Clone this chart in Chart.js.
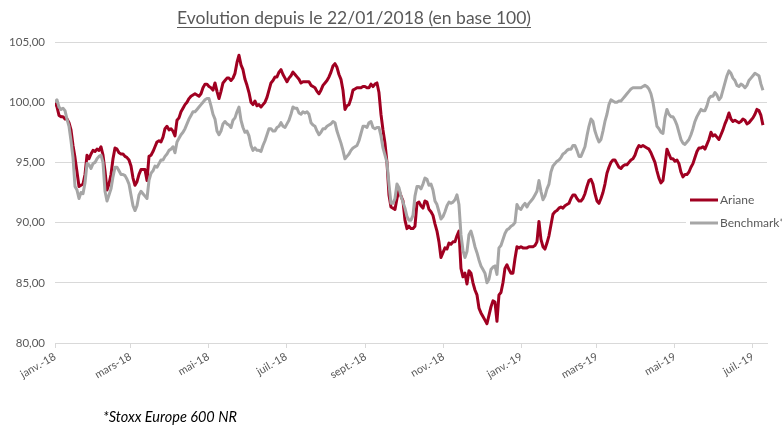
<!DOCTYPE html>
<html lang="fr">
<head>
<meta charset="utf-8">
<title>Evolution depuis le 22/01/2018</title>
<script src="https://cdn.jsdelivr.net/npm/chart.js@4.4.1/dist/chart.umd.min.js"></script>
<style>
  html, body { margin: 0; padding: 0; background: #fff; }
  #cadre { width: 782px; height: 426px; position: relative; }
</style>
</head>
<body>
<div id="cadre"><canvas id="graphique" width="782" height="426"></canvas></div>
<script>
// Textes
const titre = 'Evolution depuis le 22/01/2018 (en base 100)';
const noteBas = '*Stoxx Europe 600 NR';
const nomsSeries = ['Ariane', 'Benchmark*'];

// Axe des dates : début des séries, fin de l'axe, un point toutes les ~1,56 jours
const debut = '2018-01-22';
const finAxe = '2019-08-02';
const pasJours = 546 / 349;
const moisDates = ['2018-01-22', '2018-03-22', '2018-05-22', '2018-07-22', '2018-09-22',
                   '2018-11-22', '2019-01-22', '2019-03-22', '2019-05-22', '2019-07-22'];
const moisLabels = ['janv.-18', 'mars-18', 'mai-18', 'juil.-18', 'sept.-18',
                    'nov.-18', 'janv.-19', 'mars-19', 'mai-19', 'juil.-19'];

// Axe des valeurs
const yMin = 80, yMax = 105, yPas = 5;

// Valeurs (base 100)
const ariane = [
  100.0, 99.6, 98.9, 98.8, 98.8, 98.6, 98.6, 98.3, 97.7, 96.4,
  95.4, 94.2, 93.0, 93.1, 93.2, 94.0, 95.6, 95.3, 95.7, 96.0,
  95.9, 96.1, 96.0, 96.3, 95.6, 94.3, 92.7, 93.2, 94.0, 95.3,
  96.2, 96.1, 95.8, 95.7, 95.7, 95.5, 95.4, 95.2, 94.7, 93.7,
  93.1, 93.4, 94.0, 94.4, 94.4, 94.4, 93.5, 95.5, 95.6, 95.9,
  96.3, 96.7, 96.8, 96.7, 97.1, 97.8, 98.0, 97.7, 97.8, 97.6,
  97.2, 98.5, 98.7, 99.2, 99.5, 99.8, 100.0, 100.3, 100.5, 100.6,
  100.7, 100.6, 100.5, 100.7, 101.2, 101.5, 101.5, 101.3, 101.2, 101.0,
  101.6, 100.9, 100.3, 100.9, 101.6, 101.8, 102.0, 102.0, 101.8, 102.0,
  102.4, 103.3, 103.9, 103.1, 102.7, 101.9, 101.4, 100.8, 100.0, 99.8,
  100.1, 99.7, 99.8, 99.6, 99.8, 100.0, 100.4, 101.0, 101.6, 101.8,
  102.1, 102.1, 102.5, 102.7, 102.3, 102.0, 101.7, 102.0, 102.2, 102.5,
  102.3, 102.1, 101.9, 101.6, 101.7, 101.7, 101.7, 101.7, 101.4, 101.3,
  101.2, 100.9, 100.7, 101.0, 101.4, 101.6, 101.8, 102.1, 102.5, 103.0,
  103.2, 102.9, 102.3, 101.9, 101.0, 99.4, 99.7, 99.8, 100.3, 101.0,
  101.1, 101.2, 101.2, 101.2, 101.3, 101.3, 101.2, 101.2, 101.5, 101.3,
  101.5, 101.6, 100.8, 99.0, 97.7, 96.6, 95.0, 92.3, 91.3, 91.2,
  91.1, 92.0, 92.7, 92.2, 91.8, 90.2, 89.5, 89.7, 89.5, 89.5,
  89.7, 91.6, 91.7, 91.4, 91.2, 91.8, 91.7, 91.1, 90.9, 90.6,
  89.9, 89.3, 88.4, 87.1, 87.5, 87.9, 87.8, 88.3, 88.2, 88.4,
  88.4, 88.9, 89.3, 86.2, 85.5, 85.8, 84.9, 86.0, 85.8, 85.0,
  84.4, 84.0, 82.9, 82.5, 82.2, 81.9, 81.6, 82.3, 83.0, 83.5,
  83.4, 81.8, 84.0, 84.2, 85.0, 86.2, 86.5, 86.1, 85.8, 85.8,
  87.0, 88.0, 87.9, 88.0, 87.9, 87.9, 87.9, 88.0, 88.0, 88.0,
  88.1, 88.4, 90.1, 88.6, 88.0, 87.8, 88.3, 88.9, 89.8, 90.7,
  90.9, 91.0, 91.2, 91.3, 91.2, 91.4, 91.5, 91.6, 92.0, 92.3,
  92.3, 92.0, 91.8, 91.8, 92.0, 92.4, 93.0, 93.5, 93.6, 93.2,
  92.4, 91.8, 91.6, 92.0, 92.5, 93.2, 94.1, 94.6, 95.0, 95.2,
  95.2, 94.9, 94.6, 94.5, 94.7, 94.8, 94.8, 95.0, 95.2, 95.3,
  95.6, 96.1, 96.4, 96.3, 96.4, 96.3, 96.2, 96.1, 95.8, 95.4,
  95.0, 94.3, 93.7, 93.3, 93.5, 94.7, 96.1, 95.7, 95.3, 95.3,
  95.1, 95.2, 94.9, 94.2, 93.8, 94.0, 94.0, 94.2, 94.6, 94.9,
  95.4, 95.9, 96.2, 96.2, 96.3, 96.1, 96.5, 96.9, 97.5, 97.2,
  97.3, 97.1, 96.9, 97.3, 97.7, 98.2, 98.6, 99.1, 98.6, 98.4,
  98.5, 98.4, 98.3, 98.4, 98.6, 98.5, 98.2, 98.3, 98.5, 98.7,
  99.0, 99.4, 99.3, 98.9, 98.1
];

const benchmark = [
  100.0, 100.2, 99.6, 99.4, 99.5, 99.3, 98.6, 98.0, 96.8, 95.4,
  93.0, 92.7, 92.0, 92.5, 92.4, 93.3, 94.9, 94.8, 94.5, 94.9,
  95.0, 95.3, 95.5, 95.6, 95.0, 92.6, 91.8, 92.3, 92.8, 93.8,
  94.6, 94.6, 94.3, 94.0, 94.0, 93.9, 93.6, 93.2, 92.3, 91.4,
  91.0, 91.4, 92.3, 92.6, 92.4, 92.2, 92.0, 93.5, 94.1, 94.3,
  94.7, 94.6, 94.9, 95.2, 95.2, 95.5, 95.7, 96.0, 96.1, 96.3,
  95.8, 96.7, 97.0, 97.3, 97.5, 97.8, 98.2, 98.6, 98.9, 99.2,
  99.2, 99.4, 99.6, 99.8, 100.0, 100.2, 100.3, 100.3, 99.7, 99.0,
  98.6, 97.6, 97.3, 97.6, 98.2, 98.4, 98.2, 98.1, 97.9, 98.5,
  98.7, 99.2, 99.6, 98.5, 97.9, 97.5, 97.6, 97.2, 96.4, 96.0,
  96.2, 96.0, 96.0, 95.9, 96.4, 96.8, 97.3, 97.8, 97.8, 97.6,
  97.6, 97.9, 98.0, 98.3, 98.0, 97.9, 98.2, 98.5, 99.0, 99.6,
  99.5, 99.5, 99.1, 99.0, 99.2, 99.1, 99.2, 99.0, 98.3, 98.1,
  98.0, 97.6, 97.3, 97.5, 97.8, 97.8, 98.0, 98.1, 98.2, 98.4,
  98.3, 97.6, 97.1, 96.6, 96.0, 95.3, 95.5, 95.7, 96.0, 96.2,
  96.3, 96.4, 96.8, 97.4, 98.0, 98.0, 97.9, 98.3, 98.4, 97.9,
  97.8, 97.9, 97.9, 97.2, 96.2, 95.6, 95.0, 93.2, 91.6, 91.6,
  92.0, 93.2, 92.9, 92.2, 91.7, 91.2, 90.5, 90.2, 90.2, 90.6,
  92.2, 93.0, 93.0, 92.8, 93.2, 93.7, 93.6, 93.1, 93.2, 92.7,
  91.8, 91.5, 90.9, 90.3, 90.5, 90.9, 91.4, 91.7, 91.6, 91.7,
  91.9, 92.3, 91.5, 89.0, 87.7, 87.1, 87.6, 89.0, 89.3, 88.7,
  88.0, 87.5, 86.9, 86.4, 86.1, 85.8, 85.0, 85.3, 86.1, 86.3,
  86.4, 85.7, 87.9, 88.1, 88.6, 89.1, 89.4, 89.5, 89.7, 89.8,
  90.0, 91.5, 91.2, 91.1, 91.4, 91.6, 91.3, 91.6, 91.8, 92.0,
  92.3, 92.6, 93.5, 92.6, 91.9, 92.2, 92.8, 93.2, 94.2, 94.7,
  94.9, 95.1, 95.2, 95.4, 95.7, 95.8, 96.0, 96.1, 96.1, 96.4,
  96.4, 96.0, 95.5, 95.5, 95.9, 96.3, 97.2, 98.0, 98.6, 98.4,
  97.6, 97.1, 96.7, 96.9, 97.6, 98.4, 99.0, 99.8, 100.2, 100.1,
  100.0, 100.0, 100.1, 100.1, 100.3, 100.5, 100.7, 100.9, 101.1, 101.2,
  101.2, 101.2, 101.2, 101.2, 101.3, 101.4, 101.3, 101.1, 100.7, 100.0,
  99.0, 98.0, 97.8, 97.5, 97.4, 98.7, 99.4, 99.0, 98.8, 98.8,
  98.5, 98.1, 97.5, 96.9, 96.6, 96.5, 96.7, 96.9, 97.3, 97.8,
  98.4, 98.8, 99.1, 99.4, 99.3, 99.3, 99.7, 100.3, 100.5, 100.5,
  100.8, 100.6, 100.2, 100.4, 101.0, 101.6, 102.2, 102.6, 102.4, 102.0,
  101.8, 101.4, 101.3, 101.5, 101.4, 101.2, 101.4, 101.8, 102.0, 102.2,
  102.4, 102.3, 102.2, 101.5, 101.0
];

const rouge = '#A00021';
const gris = '#A6A6A6';
const texteGris = '#595959';

Chart.defaults.font.family = 'Lato';

// nombre de jours depuis le début des séries
function jours(d) {
  return (Date.parse(d) - Date.parse(debut)) / 86400000;
}

function enPoints(valeurs) {
  return valeurs.map((v, i) => ({ x: i * pasJours, y: v }));
}

// Titre souligné, légende à droite et note de bas de page
const decor = {
  id: 'decor',
  afterDraw(chart) {
    const ctx = chart.ctx;
    ctx.save();

    ctx.font = '17.5px Lato';
    ctx.fillStyle = texteGris;
    ctx.textAlign = 'center';
    ctx.textBaseline = 'alphabetic';
    ctx.fillText(titre, 354, 24);
    const w = ctx.measureText(titre).width;
    ctx.fillRect(354 - w / 2, 27, w, 1);

    // fond blanc de la légende (masque la grille)
    ctx.fillStyle = '#fff';
    ctx.fillRect(686, 190, 96, 42);

    const couleurs = [rouge, gris];
    const lignesY = [200, 223];
    ctx.font = '12px Lato';
    ctx.textAlign = 'left';
    ctx.textBaseline = 'middle';
    nomsSeries.forEach((nom, i) => {
      ctx.strokeStyle = couleurs[i];
      ctx.lineWidth = 3;
      ctx.beginPath();
      ctx.moveTo(690, lignesY[i]);
      ctx.lineTo(718, lignesY[i]);
      ctx.stroke();
      ctx.fillStyle = texteGris;
      ctx.fillText(nom, 720, lignesY[i]);
    });

    ctx.font = 'italic 14.5px Lato';
    ctx.fillStyle = '#000';
    ctx.textAlign = 'left';
    ctx.textBaseline = 'alphabetic';
    ctx.fillText(noteBas, 103, 422);

    ctx.restore();
  }
};

const ctx = document.getElementById('graphique').getContext('2d');
const graphique = new Chart(ctx, {
  type: 'line',
  data: {
    datasets: [
      {
        label: nomsSeries[0],
        data: enPoints(ariane),
        borderColor: rouge,
        borderWidth: 3,
        pointRadius: 0,
        tension: 0,
        borderJoinStyle: 'round',
        order: 2
      },
      {
        label: nomsSeries[1],
        data: enPoints(benchmark),
        borderColor: gris,
        borderWidth: 3,
        pointRadius: 0,
        tension: 0,
        borderJoinStyle: 'round',
        order: 1
      }
    ]
  },
  options: {
    responsive: false,
    animation: false,
    layout: { padding: { top: 42, right: 15, left: 0, bottom: 0 } },
    plugins: {
      legend: { display: false },
      title: { display: false },
      tooltip: { enabled: false }
    },
    scales: {
      x: {
        type: 'linear',
        min: 0,
        max: jours(finAxe),
        afterBuildTicks: (scale) => {
          scale.ticks = moisDates.map(d => ({ value: jours(d) }));
        },
        afterFit: (scale) => { scale.height = 83; },
        ticks: {
          autoSkip: false,
          maxRotation: 30,
          minRotation: 30,
          padding: 2,
          color: texteGris,
          font: { size: 11 },
          callback: (val, idx) => moisLabels[idx]
        },
        grid: { drawOnChartArea: false, tickLength: 5, color: '#d9d9d9' },
        border: { color: '#d9d9d9' }
      },
      y: {
        min: yMin,
        max: yMax,
        afterFit: (scale) => { scale.width = 55; },
        ticks: {
          stepSize: yPas,
          padding: 10,
          color: texteGris,
          font: { size: 11.5 },
          callback: (v) => v.toFixed(2).replace('.', ',')
        },
        grid: { color: '#d9d9d9', drawTicks: false },
        border: { display: false }
      }
    }
  },
  plugins: [decor]
});
</script>
</body>
</html>
